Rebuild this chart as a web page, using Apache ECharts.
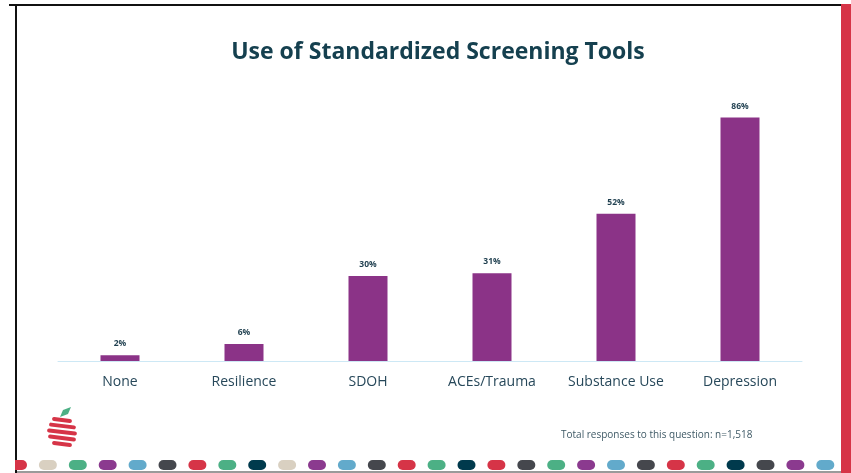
<!DOCTYPE html>
<html>
<head>
<meta charset="utf-8">
<style>
  html, body { margin: 0; padding: 0; background: #fff; }
  #chart { width: 851px; height: 473px; }
</style>
<script src="https://cdn.jsdelivr.net/npm/echarts@6/dist/echarts.min.js"></script>
</head>
<body>
<div id="chart"></div>
<script>
const categories = ["None", "Resilience", "SDOH", "ACEs/Trauma", "Substance Use", "Depression"];
const shares = [2, 6, 30, 31, 52, 86];
const titleText = "Use of Standardized Screening Tools";
const footnote = "Total responses to this question: n=1,518";

// decorative dash colours along the bottom edge
const dashColors = ["#d63447", "#d9d0c1", "#4cb085", "#8b3a8f", "#62aacb", "#45474d", "#d63447", "#4cb085", "#003a4d",
  "#d9d0c1", "#8b3a8f", "#62aacb", "#45474d", "#d63447", "#4cb085", "#003a4d", "#d63447", "#45474d", "#4cb085",
  "#8b3a8f", "#62aacb", "#45474d", "#d63447", "#4cb085", "#003a4d", "#45474d", "#8b3a8f", "#62aacb"];

const chart = echarts.init(document.getElementById("chart"));

const deco = [];
// frame
deco.push({ type: "rect", shape: { x: 9, y: 4, width: 832, height: 2 }, style: { fill: "#111" } });
deco.push({ type: "rect", shape: { x: 15, y: 4, width: 2, height: 469 }, style: { fill: "#111" } });
deco.push({ type: "rect", shape: { x: 841, y: 4, width: 10, height: 469 }, style: { fill: "#d63447" } });
deco.push({ type: "rect", shape: { x: 17, y: 471, width: 824, height: 2 }, style: { fill: "#9a9a9a" } });

// dashes
dashColors.forEach((c, i) => {
  deco.push({
    type: "rect",
    shape: { x: 9 + i * 29.9, y: 460, width: 18, height: 10, r: 5 },
    style: { fill: c },
    z: 1
  });
});
deco.push({ type: "rect", shape: { x: 0, y: 455, width: 15, height: 17 }, style: { fill: "#fff" }, z: 2 });

// apple logo
const stripes = [
  [52, 418, 20], [49, 424, 27], [47, 430, 30], [48, 436, 28], [52, 442, 20]
];
stripes.forEach(([x, y, w]) => {
  deco.push({
    type: "rect",
    shape: { x: x, y: y, width: w, height: 4, r: 2 },
    rotation: -0.12,
    originX: x + w / 2, originY: y + 2,
    style: { fill: "#d63447" }
  });
});
deco.push({
  type: "polygon",
  shape: { points: [[60, 417], [63, 410], [71, 407], [68, 414]] },
  style: { fill: "#4cb085" }
});

chart.setOption({
  animation: false,
  title: [
    {
      text: titleText,
      left: 433, top: 36, textAlign: "center",
      textStyle: { fontFamily: "Open Sans", fontSize: 23, fontWeight: "bold", color: "#15404f" }
    },
    {
      text: footnote,
      left: 556, top: 425,
      textStyle: { fontFamily: "Open Sans", fontSize: 10, fontWeight: "normal", color: "#3f5a66" }
    }
  ],
  grid: { left: 58, right: 49, top: 78, bottom: 112 },
  xAxis: {
    type: "category",
    data: categories,
    axisLine: { lineStyle: { color: "#cde8f5", width: 1 } },
    axisTick: { show: false },
    axisLabel: { interval: 0, margin: 14, fontFamily: "Open Sans", fontSize: 14, color: "#27485a" }
  },
  yAxis: {
    type: "value", min: 0, max: 100, show: false
  },
  series: [{
    type: "bar",
    data: shares,
    barWidth: 39,
    itemStyle: { color: "#8b3387" },
    label: {
      show: true, position: "top", distance: 7,
      formatter: "{c}%",
      fontFamily: "Open Sans", fontSize: 8.5, fontWeight: "bold", color: "#1f3f4f"
    }
  }],
  graphic: deco
});
</script>
</body>
</html>
